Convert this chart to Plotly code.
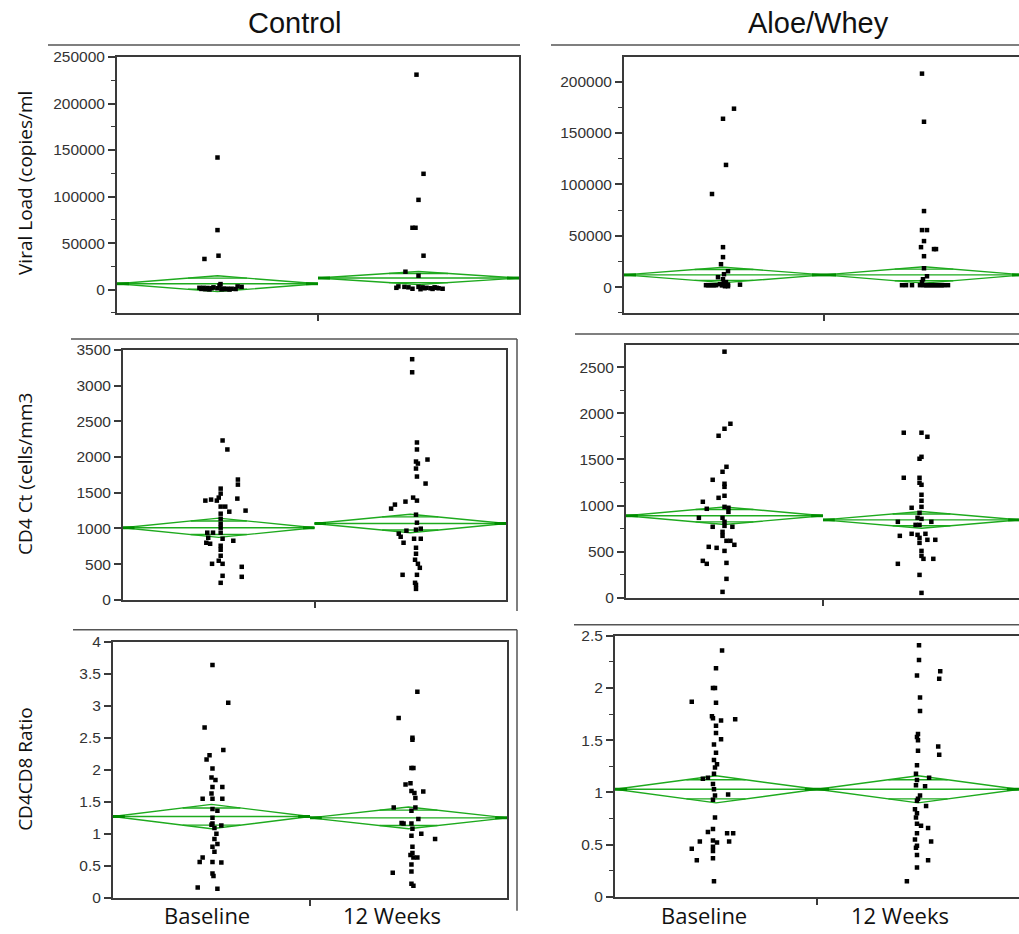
import plotly.graph_objects as go
import math

W, H = 1019, 934

groups = ["Baseline", "12 Weeks"]
col_titles = ["Control", "Aloe/Whey"]
row_titles = ["Viral Load (copies/ml", "CD4 Ct (cells/mm3", "CD4CD8 Ratio"]

# ---------------- Viral load, Control ----------------
vl_ctrl_base = [142000, 64000, 36500, 33000, 6000, 4500, 3500, 3000, 2500, 2000, 2000, 1800,
                1500, 1500, 1200, 1000, 1000, 800, 700, 500, 500, 300, 200, 100]
vl_ctrl_base_jit = [0.0, 0.0, 0.005, -0.065, 0.015, 0.01, 0.1, 0.12, -0.02, -0.09, -0.07, -0.05,
                    -0.03, 0.0, 0.03, 0.05, 0.07, -0.08, 0.09, -0.06, 0.04, 0.02, -0.04, 0.06]
vl_ctrl_wk12 = [231000, 124500, 96500, 66500, 66500, 36500, 19300, 15000, 3500, 3000, 2500, 2000,
                3000, 2500, 2000, 1500, 2500, 1500, 1000, 2000, 1000, 1500, 800, 500]
vl_ctrl_wk12_jit = [-0.01, 0.025, 0.0, -0.03, -0.015, 0.025, -0.065, 0.0, -0.1, -0.07, -0.05, -0.11,
                    0.0, 0.02, 0.04, 0.06, 0.08, 0.1, 0.12, 0.09, -0.03, 0.03, 0.07, 0.01]
vl_ctrl_mean = [6400, 12500]
vl_ctrl_ci = [8500, 7000]

# ---------------- Viral load, Aloe/Whey ----------------
vl_aloe_base = [173700, 163900, 119000, 90700, 39000, 29300, 22400, 15600, 12700, 9800, 7800, 5000,
                4000, 3000, 2500, 2000, 2000, 2000, 2000, 2000, 2000, 1800, 1500, 1500, 1000, 1000, 2500]
vl_aloe_base_jit = [0.05, -0.005, 0.01, -0.06, -0.005, -0.005, -0.015, 0.02, 0.0, -0.03, -0.005, 0.01,
                    0.0, -0.02, 0.02, -0.09, -0.08, -0.07, -0.06, -0.05, -0.04, -0.01, 0.01, 0.015,
                    0.005, 0.02, 0.08]
vl_aloe_wk12 = [207800, 161000, 74100, 55600, 55600, 44900, 39000, 37100, 37100, 30200, 18500, 10700,
                7800, 5000, 2000, 2000, 2000, 2000, 2000, 2000, 2000, 2000, 2000, 2000, 2000, 2000,
                2000, 2000, 2000, 2000]
vl_aloe_wk12_jit = [-0.01, 0.0, 0.0, -0.01, 0.015, 0.0, -0.015, 0.05, 0.06, 0.0, 0.0, 0.015,
                    -0.005, -0.01, -0.11, -0.09, -0.06, -0.02, 0.0, 0.01, 0.02, 0.03, 0.04, 0.05,
                    0.06, 0.07, 0.08, 0.09, 0.1, 0.12]
vl_aloe_mean = [12000, 12000]
vl_aloe_ci = [7500, 8000]

# ---------------- CD4 count, Control ----------------
cd4_ctrl_base = [2232, 2106, 1685, 1614, 1558, 1488, 1390, 1404, 1390, 1432, 1418, 1306, 1306, 1235,
                 1250, 1207, 1137, 1067, 1011, 941, 941, 941, 870, 856, 828, 800, 786, 758, 702, 618,
                 548, 505, 505, 463, 337, 323, 239]
cd4_ctrl_base_jit = [0.02, 0.045, 0.1, 0.1, 0.01, 0.01, -0.07, -0.04, -0.01, 0.0, 0.097, 0.01, 0.034,
                     0.055, 0.14, 0.01, 0.01, 0.01, 0.01, -0.06, -0.03, 0.01, -0.055, 0.02, 0.076,
                     -0.065, -0.045, 0.01, 0.01, 0.01, 0.0, 0.02, -0.035, 0.12, 0.02, 0.12, 0.01]
cd4_ctrl_wk12 = [3370, 3187, 2204, 2106, 1937, 1909, 1965, 1839, 1727, 1629, 1432, 1390, 1376, 1334,
                 1278, 1193, 1081, 997, 983, 969, 927, 884, 800, 856, 856, 730, 646, 562, 505, 449,
                 351, 351, 239, 211, 154]
cd4_ctrl_wk12_jit = [0.01, 0.01, 0.035, 0.035, 0.03, 0.04, 0.09, 0.03, 0.035, 0.08, 0.015, 0.035,
                     -0.025, -0.08, -0.1, 0.03, 0.035, 0.055, 0.03, -0.02, -0.06, -0.05, -0.035,
                     0.02, 0.055, 0.03, 0.03, 0.025, 0.04, 0.05, -0.04, 0.035, 0.025, 0.03, 0.03]
cd4_ctrl_mean = [1010, 1070]
cd4_ctrl_ci = [135, 130]

# ---------------- CD4 count, Aloe/Whey ----------------
cd4_aloe_base = [2667, 1886, 1832, 1756, 1420, 1366, 1279, 1236, 1203, 1106, 1084, 1041, 986, 976,
                 965, 932, 867, 867, 824, 780, 770, 770, 715, 672, 618, 618, 575, 553, 542, 509,
                 401, 369, 379, 206, 65]
cd4_aloe_base_jit = [0.0, 0.03, 0.0, -0.03, 0.01, -0.01, -0.06, 0.0, 0.0, 0.0, -0.03, -0.11, 0.0,
                     0.02, -0.09, 0.02, -0.13, -0.01, 0.0, 0.0, -0.06, 0.04, -0.01, -0.01, 0.01,
                     0.03, 0.05, -0.08, -0.04, 0.0, -0.11, -0.09, 0.01, 0.01, -0.01]
cd4_aloe_wk12 = [1789, 1789, 1745, 1528, 1507, 1301, 1301, 1247, 1225, 1117, 1052, 976, 986, 921,
                 867, 856, 824, 824, 791, 791, 672, 694, 683, 650, 694, 629, 629, 596, 509, 455,
                 423, 423, 369, 249, 54]
cd4_aloe_wk12_jit = [-0.09, 0.0, 0.03, 0.0, -0.01, -0.09, -0.01, -0.01, 0.0, 0.0, 0.0, -0.05, 0.0,
                     -0.01, -0.02, 0.0, -0.12, 0.05, -0.01, -0.03, -0.11, -0.05, -0.02, -0.01, 0.02,
                     0.03, 0.07, -0.01, 0.0, 0.0, 0.01, 0.06, -0.12, -0.01, 0.0]
cd4_aloe_mean = [890, 845]
cd4_aloe_ci = [95, 90]

# ---------------- CD4/CD8 ratio, Control ----------------
ratio_ctrl_base = [3.64, 3.05, 2.66, 2.31, 2.23, 2.16, 2.02, 1.88, 1.84, 1.73, 1.73, 1.63, 1.55, 1.55,
                   1.55, 1.39, 1.36, 1.25, 1.16, 1.14, 1.13, 1.09, 1.00, 0.92, 0.84, 0.80, 0.72, 0.63,
                   0.56, 0.56, 0.55, 0.38, 0.34, 0.16, 0.14]
ratio_ctrl_base_jit = [0.005, 0.085, -0.035, 0.06, -0.01, -0.025, 0.005, 0.0, 0.02, 0.005, 0.055, 0.0,
                       -0.045, 0.005, 0.055, 0.005, 0.03, 0.005, 0.005, 0.0, 0.05, 0.015, 0.025,
                       0.015, 0.03, 0.005, 0.015, -0.045, -0.06, 0.005, 0.05, 0.005, 0.01, -0.07, 0.03]
ratio_ctrl_wk12 = [3.22, 2.81, 2.50, 2.47, 2.03, 2.03, 1.77, 1.79, 1.67, 1.64, 1.66, 1.56, 1.41, 1.41,
                   1.36, 1.23, 1.17, 1.16, 1.16, 1.08, 1.00, 0.97, 0.92, 0.80, 0.70, 0.67, 0.63, 0.63,
                   0.52, 0.41, 0.39, 0.22, 0.19]
ratio_ctrl_wk12_jit = [0.045, -0.05, 0.02, 0.02, 0.015, 0.025, -0.015, 0.01, 0.015, 0.03, 0.075, 0.035,
                       -0.075, 0.035, 0.015, 0.05, -0.035, -0.025, 0.015, 0.02, 0.065, 0.015, 0.135,
                       0.02, 0.02, 0.01, 0.025, 0.045, 0.015, 0.015, -0.08, 0.015, 0.025]
ratio_ctrl_mean = [1.27, 1.25]
ratio_ctrl_ci = [0.19, 0.17]

# ---------------- CD4/CD8 ratio, Aloe/Whey ----------------
ratio_aloe_base = [2.36, 2.19, 2.00, 2.00, 1.87, 1.86, 1.73, 1.71, 1.69, 1.70, 1.64, 1.57, 1.51, 1.46,
                   1.38, 1.31, 1.27, 1.24, 1.13, 1.14, 1.18, 1.08, 1.03, 0.98, 0.97, 0.93, 0.76, 0.65,
                   0.62, 0.61, 0.61, 0.54, 0.52, 0.53, 0.53, 0.48, 0.44, 0.46, 0.37, 0.35, 0.15]
ratio_aloe_base_jit = [0.03, 0.0, -0.015, -0.005, -0.12, 0.0, -0.02, -0.015, 0.025, 0.095, 0.0, 0.0,
                       0.025, -0.01, 0.0, -0.01, 0.005, -0.005, -0.065, -0.04, -0.01, -0.015, -0.01,
                       0.06, -0.005, -0.015, -0.005, -0.015, -0.04, 0.055, 0.085, -0.015, 0.005,
                       -0.08, 0.065, -0.015, -0.015, -0.12, -0.015, -0.095, -0.01]
ratio_aloe_wk12 = [2.41, 2.27, 2.12, 2.16, 2.09, 1.91, 1.78, 1.56, 1.53, 1.50, 1.44, 1.36, 1.40, 1.26,
                   1.18, 1.14, 1.12, 1.07, 1.06, 0.97, 0.94, 0.92, 0.87, 0.84, 0.80, 0.76, 0.70, 0.68,
                   0.66, 0.61, 0.55, 0.53, 0.49, 0.47, 0.40, 0.35, 0.28, 0.15]
ratio_aloe_wk12_jit = [0.005, 0.005, -0.005, 0.11, 0.105, 0.01, 0.01, 0.0, -0.005, 0.0, 0.1, 0.105,
                       0.0, -0.005, -0.01, 0.055, -0.005, -0.01, 0.035, 0.01, 0.0, -0.005, 0.04,
                       -0.015, -0.005, -0.01, -0.005, 0.015, 0.05, -0.005, -0.015, 0.065, -0.005,
                       -0.01, -0.005, 0.05, -0.005, -0.055]
ratio_aloe_mean = [1.03, 1.03]
ratio_aloe_ci = [0.13, 0.13]

# ---------------- panel layout (pixels) ----------------
def px_x(p):
    return p / W


def px_y(p):
    # vertical correction for the observed rendering offset/scale
    q = (p - 8.0) / 0.982
    return 1 - q / H


def raw_y(p):
    return 1 - p / H


panels = [
    dict(i=1, base=vl_ctrl_base, bj=vl_ctrl_base_jit, wk=vl_ctrl_wk12, wj=vl_ctrl_wk12_jit,
         mean=vl_ctrl_mean, ci=vl_ctrl_ci, xs=(117, 519), ys=(56, 312), xr=[-0.5, 1.5],
         yr=[-25000, 250000], dtick=50000, minor=25000, right=True),
    dict(i=2, base=vl_aloe_base, bj=vl_aloe_base_jit, wk=vl_aloe_wk12, wj=vl_aloe_wk12_jit,
         mean=vl_aloe_mean, ci=vl_aloe_ci, xs=(624, 1019), ys=(56, 312), xr=[-0.5, 1.475],
         yr=[-25000, 224000], dtick=50000, minor=25000, right=False),
    dict(i=3, base=cd4_ctrl_base, bj=cd4_ctrl_base_jit, wk=cd4_ctrl_wk12, wj=cd4_ctrl_wk12_jit,
         mean=cd4_ctrl_mean, ci=cd4_ctrl_ci, xs=(123, 506), ys=(349, 599), xr=[-0.5, 1.5],
         yr=[0, 3500], dtick=500, minor=None, right=True),
    dict(i=4, base=cd4_aloe_base, bj=cd4_aloe_base_jit, wk=cd4_aloe_wk12, wj=cd4_aloe_wk12_jit,
         mean=cd4_aloe_mean, ci=cd4_aloe_ci, xs=(626, 1019), ys=(344, 597), xr=[-0.5, 1.495],
         yr=[0, 2740], dtick=500, minor=250, right=False),
    dict(i=5, base=ratio_ctrl_base, bj=ratio_ctrl_base_jit, wk=ratio_ctrl_wk12, wj=ratio_ctrl_wk12_jit,
         mean=ratio_ctrl_mean, ci=ratio_ctrl_ci, xs=(113, 507), ys=(641, 897), xr=[-0.5, 1.5],
         yr=[0, 4], dtick=0.5, minor=None, right=True),
    dict(i=6, base=ratio_aloe_base, bj=ratio_aloe_base_jit, wk=ratio_aloe_wk12, wj=ratio_aloe_wk12_jit,
         mean=ratio_aloe_mean, ci=ratio_aloe_ci, xs=(615, 1019), ys=(635, 896), xr=[-0.5, 1.5],
         yr=[0, 2.5], dtick=0.5, minor=0.25, right=False),
]

GREEN = "rgb(30,170,30)"
DKGREEN = "rgb(0,140,0)"
AXCOL = "#3a3a3a"

fig = go.Figure()
layout = {}
for p in panels:
    i = p["i"]
    xa = "x" if i == 1 else f"x{i}"
    ya = "y" if i == 1 else f"y{i}"
    xkey = "xaxis" if i == 1 else f"xaxis{i}"
    ykey = "yaxis" if i == 1 else f"yaxis{i}"

    # mean diamonds
    for g, (m, c) in enumerate(zip(p["mean"], p["ci"])):
        xd = [g - 0.5, g, g + 0.5, g, g - 0.5]
        yd = [m, m + c, m, m - c, m]
        fig.add_trace(go.Scatter(x=xd, y=yd, xaxis=xa, yaxis=ya, mode="lines",
                                 line=dict(color=GREEN, width=1.4), hoverinfo="skip",
                                 showlegend=False))
        fig.add_trace(go.Scatter(x=[g - 0.5, g + 0.5], y=[m, m], xaxis=xa, yaxis=ya, mode="lines",
                                 line=dict(color=GREEN, width=1.4), hoverinfo="skip",
                                 showlegend=False))
        o = c / math.sqrt(2)
        hw = 0.5 * (1 - 1 / math.sqrt(2))
        for s in (1, -1):
            fig.add_trace(go.Scatter(x=[g - hw, g + hw], y=[m + s * o, m + s * o], xaxis=xa, yaxis=ya,
                                     mode="lines", line=dict(color=GREEN, width=1.4),
                                     hoverinfo="skip", showlegend=False))
        fig.add_trace(go.Scatter(x=[g - 0.5, g - 0.44, None, g + 0.44, g + 0.5], y=[m, m, None, m, m],
                                 xaxis=xa, yaxis=ya, mode="lines",
                                 line=dict(color=DKGREEN, width=3), hoverinfo="skip",
                                 showlegend=False))

    # points
    for g, (vals, jit) in enumerate([(p["base"], p["bj"]), (p["wk"], p["wj"])]):
        fig.add_trace(go.Scatter(x=[g + j for j in jit], y=vals, xaxis=xa, yaxis=ya, mode="markers",
                                 marker=dict(symbol="square", size=4.5, color="black",
                                             line=dict(width=0)),
                                 name=groups[g], showlegend=False))

    layout[xkey] = dict(domain=[px_x(p["xs"][0]), px_x(p["xs"][1])], range=p["xr"], anchor=ya,
                        showgrid=False, zeroline=False, showline=True, linecolor=AXCOL, linewidth=2,
                        mirror=True, tickvals=[0.5], ticks="outside", ticklen=6, tickwidth=1.5,
                        tickcolor=AXCOL, showticklabels=False, fixedrange=True)
    yd = dict(domain=[px_y(p["ys"][1]), px_y(p["ys"][0])], range=p["yr"], anchor=xa,
              showgrid=False, zeroline=False, showline=True, linecolor=AXCOL, linewidth=2,
              mirror=p["right"], dtick=p["dtick"], tick0=0, ticks="outside", ticklen=7,
              tickwidth=1.5, tickcolor=AXCOL, tickformat="d" if p["dtick"] >= 1 else "",
              tickfont=dict(family="Liberation Sans, Arial", size=15.5, color="#333"),
              fixedrange=True)
    if p["minor"]:
        yd["minor"] = dict(dtick=p["minor"], tick0=0, ticks="outside", ticklen=4,
                           tickwidth=1.2, tickcolor=AXCOL)
    layout[ykey] = yd

shapes = []


def hline(y, x0, x1):
    shapes.append(dict(type="line", xref="paper", yref="paper", x0=px_x(x0), x1=px_x(x1),
                       y0=px_y(y), y1=px_y(y), line=dict(color="#555", width=1.5)))


def vline(x, y0, y1):
    shapes.append(dict(type="line", xref="paper", yref="paper", x0=px_x(x), x1=px_x(x),
                       y0=px_y(y0), y1=px_y(y1), line=dict(color="#555", width=1.5)))


hline(44, 48, 520)
hline(44, 551, 1019)
hline(338, 71, 517)
vline(517, 338, 610)
hline(333, 575, 1019)
hline(629, 73, 517)
vline(517, 629, 910)
hline(624, 574, 1019)

annotations = []
for t, xpx in zip(col_titles, [295, 818]):
    annotations.append(dict(text=t, x=px_x(xpx), y=px_y(22), xref="paper", yref="paper",
                            showarrow=False, xanchor="center", yanchor="middle",
                            font=dict(family="Liberation Sans, Arial", size=29, color="#111")))
for t, ypx in zip(row_titles, [182, 473, 769]):
    annotations.append(dict(text=t, x=px_x(25), y=px_y(ypx), xref="paper", yref="paper",
                            showarrow=False, textangle=-90, xanchor="center", yanchor="middle",
                            font=dict(family="Open Sans", size=19, color="#111")))
for xpx, lab in zip([207, 392, 704, 900], groups + groups):
    annotations.append(dict(text=lab, x=px_x(xpx), y=raw_y(923), xref="paper", yref="paper",
                            showarrow=False, xanchor="center", yanchor="middle",
                            font=dict(family="Open Sans", size=22, color="#111")))

fig.update_layout(width=W, height=H, margin=dict(l=0, r=0, t=0, b=0), paper_bgcolor="white",
                  plot_bgcolor="white", showlegend=False, shapes=shapes, annotations=annotations,
                  **layout)

post = (
    "document.documentElement.style.margin='0';"
    "document.documentElement.style.overflow='hidden';"
    "document.body.style.margin='0';"
    "document.body.style.overflow='hidden';"
    "var gd=document.getElementById('{plot_id}');"
    "gd.style.position='fixed';gd.style.top='0px';gd.style.left='0px';"
)
fig.write_html("out.html", config={"displayModeBar": False}, post_script=post)
